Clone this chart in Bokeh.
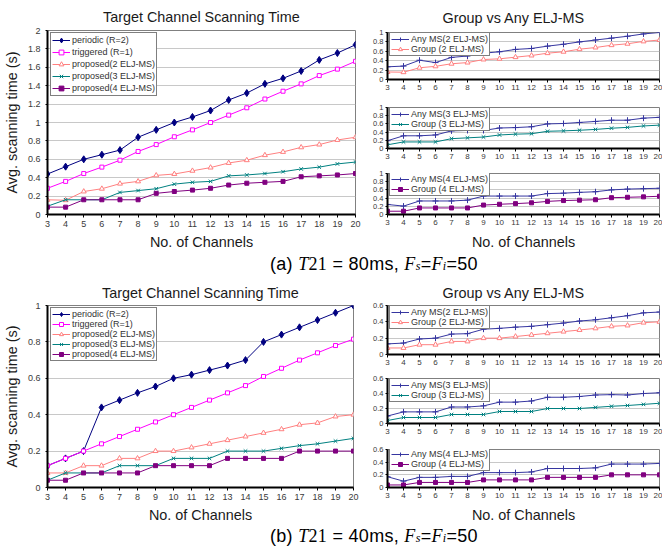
from bokeh.plotting import figure
from bokeh.layouts import row, column
from bokeh.models import FixedTicker, CustomJSTickFormatter, Legend, LegendItem, Div
from bokeh.embed import file_html
from bokeh.resources import INLINE

FONT = "Liberation Sans"

channels = list(range(3, 21))

# ---- (a) T21 = 80 ms ----
a_periodic = [0.44, 0.52, 0.60, 0.65, 0.70, 0.84, 0.92, 1.00, 1.06, 1.13, 1.245, 1.32, 1.42, 1.48, 1.56, 1.68, 1.755, 1.845]
a_triggered = [0.285, 0.36, 0.445, 0.515, 0.59, 0.685, 0.76, 0.845, 0.92, 1.00, 1.08, 1.16, 1.255, 1.34, 1.42, 1.51, 1.58, 1.665]
a_prop2 = [0.16, 0.155, 0.25, 0.28, 0.335, 0.36, 0.425, 0.44, 0.475, 0.51, 0.56, 0.59, 0.645, 0.68, 0.73, 0.76, 0.81, 0.84]
a_prop3 = [0.09, 0.16, 0.16, 0.16, 0.24, 0.26, 0.28, 0.33, 0.35, 0.36, 0.42, 0.43, 0.445, 0.465, 0.495, 0.515, 0.55, 0.57]
a_prop4 = [0.08, 0.08, 0.16, 0.16, 0.16, 0.16, 0.23, 0.25, 0.265, 0.285, 0.32, 0.34, 0.35, 0.36, 0.41, 0.42, 0.43, 0.445]
a_any2 = [0.27, 0.285, 0.41, 0.36, 0.47, 0.50, 0.56, 0.59, 0.64, 0.66, 0.71, 0.75, 0.80, 0.84, 0.88, 0.92, 0.97, 1.00]
a_any3 = [0.19, 0.31, 0.31, 0.33, 0.43, 0.44, 0.44, 0.50, 0.51, 0.53, 0.60, 0.61, 0.635, 0.66, 0.69, 0.69, 0.74, 0.76]
a_any4 = [0.245, 0.205, 0.33, 0.33, 0.33, 0.35, 0.45, 0.45, 0.45, 0.45, 0.51, 0.52, 0.54, 0.555, 0.60, 0.62, 0.63, 0.64]

# ---- (b) T21 = 40 ms ----
b_periodic = [0.12, 0.16, 0.20, 0.44, 0.48, 0.52, 0.555, 0.60, 0.62, 0.645, 0.67, 0.70, 0.80, 0.84, 0.88, 0.92, 0.96, 1.00]
b_triggered = [0.12, 0.16, 0.20, 0.24, 0.28, 0.32, 0.36, 0.40, 0.44, 0.48, 0.52, 0.56, 0.61, 0.655, 0.70, 0.74, 0.78, 0.815]
b_prop2 = [0.08, 0.08, 0.12, 0.12, 0.16, 0.16, 0.20, 0.20, 0.22, 0.24, 0.26, 0.28, 0.30, 0.32, 0.345, 0.355, 0.39, 0.40]
b_prop3 = [0.04, 0.08, 0.08, 0.08, 0.12, 0.12, 0.12, 0.16, 0.16, 0.16, 0.20, 0.20, 0.20, 0.215, 0.23, 0.24, 0.255, 0.27]
b_prop4 = [0.04, 0.04, 0.08, 0.08, 0.08, 0.08, 0.12, 0.12, 0.12, 0.12, 0.16, 0.16, 0.16, 0.16, 0.20, 0.20, 0.20, 0.20]
b_any2 = [0.13, 0.14, 0.19, 0.20, 0.25, 0.255, 0.31, 0.32, 0.335, 0.345, 0.365, 0.385, 0.41, 0.425, 0.45, 0.475, 0.51, 0.52]
b_any3 = [0.10, 0.155, 0.155, 0.155, 0.22, 0.22, 0.235, 0.285, 0.285, 0.30, 0.35, 0.35, 0.36, 0.38, 0.385, 0.38, 0.40, 0.41]
b_any4 = [0.17, 0.10, 0.16, 0.16, 0.175, 0.175, 0.235, 0.235, 0.235, 0.245, 0.30, 0.30, 0.30, 0.31, 0.37, 0.37, 0.37, 0.38]

yticks_2 = [0, 0.2, 0.4, 0.6, 0.8, 1.0, 1.2, 1.4, 1.6, 1.8, 2.0]
yticks_1 = [0, 0.2, 0.4, 0.6, 0.8, 1.0]
yticks_06 = [0, 0.2, 0.4, 0.6]

left_title = "Target Channel Scanning Time"
right_title = "Group vs Any ELJ-MS"
x_label = "No. of Channels"
y_label = "Avg. scanning time (s)"
left_names = ["periodic (R=2)", "triggered (R=1)", "proposed(2 ELJ-MS)",
              "proposed(3 ELJ-MS)", "proposed(4 ELJ-MS)"]

STY = {
    "periodic": dict(color="#000080", marker="diamond", size=7, fill="#000080"),
    "triggered": dict(color="#ff00ff", marker="square", size=4, fill="white"),
    "p2": dict(color="#ff8080", marker="triangle", size=5, fill="white"),
    "p3": dict(color="#008080", marker="x", size=5, fill="#008080"),
    "p4": dict(color="#800080", marker="square", size=4, fill="#800080"),
    "any": dict(color="#3636a0", marker="cross", size=6, fill="#3636a0"),
}


def style_axis(ax, label_size, tick_out, standoff, als):
    ax.axis_line_color = "black"
    ax.axis_line_width = 2
    ax.major_tick_line_color = "black"
    ax.major_tick_line_width = 1
    ax.major_tick_in = 0
    ax.major_tick_out = tick_out
    ax.minor_tick_line_color = None
    ax.major_label_text_font = FONT
    ax.major_label_text_font_size = label_size
    ax.major_label_text_color = "#3a3a3a"
    ax.major_label_standoff = standoff
    ax.axis_label_text_font = FONT
    ax.axis_label_text_font_size = "14.4px"
    ax.axis_label_text_font_style = "normal"
    ax.axis_label_text_color = "#1a1a1a"
    ax.axis_label_standoff = als


def make_fig(width, height, ymax, yticks, borders, small, xlabel=None, ylabel=None):
    l, r, t, b = borders
    p = figure(width=width, height=height, x_range=(3, 20), y_range=(0, ymax),
               output_backend="svg", toolbar_location=None,
               min_border_left=l, min_border_right=r, min_border_top=t, min_border_bottom=b)
    p.background_fill_color = "white"
    p.border_fill_color = "white"
    p.outline_line_color = "#808080"
    p.outline_line_width = 1
    xt = FixedTicker(ticks=channels)
    yt = FixedTicker(ticks=yticks)
    p.xaxis.ticker = xt
    p.yaxis.ticker = yt
    p.xgrid.visible = False
    p.ygrid.ticker = yt
    p.ygrid.grid_line_color = "#c8c8c8"
    p.yaxis.formatter = CustomJSTickFormatter(code="return String(Math.round(tick * 10) / 10);")
    if small:
        style_axis(p.xaxis[0], "8px", 3, 2, 6)
        style_axis(p.yaxis[0], "7.5px", 2, 2, 2)
    else:
        style_axis(p.xaxis[0], "9px", 3, 3, 4)
        style_axis(p.yaxis[0], "9px", 2, 5, 5)
    if xlabel:
        p.xaxis.axis_label = xlabel
    if ylabel:
        p.yaxis.axis_label = ylabel
    return p


def set_title(p, text, standoff, align="center", offset=0):
    p.title.text = text
    p.title.text_font = FONT
    p.title.text_font_size = "14.4px"
    p.title.text_font_style = "normal"
    p.title.text_color = "#1a1a1a"
    p.title.align = align
    p.title.offset = offset
    p.title.vertical_align = "bottom"
    p.title.standoff = standoff


def add_series(p, y, key):
    st = STY[key]
    r1 = p.line(channels, y, line_color=st["color"], line_width=1)
    r2 = p.scatter(channels, y, marker=st["marker"], size=st["size"],
                   line_color=st["color"], fill_color=st["fill"], line_width=1)
    return [r1, r2]


def add_legend(p, entries, frame_h, x_off, top_off, row_h, pad, fsize):
    items = [LegendItem(label=lab, renderers=rs) for lab, rs in entries]
    leg_h = len(items) * row_h + 2 * pad
    leg = Legend(items=items, location=(x_off, frame_h - top_off - leg_h),
                 label_text_font=FONT, label_text_font_size=fsize, label_text_color="#333333",
                 label_height=row_h, glyph_height=row_h, glyph_width=18, label_standoff=2,
                 spacing=0, padding=pad, margin=0,
                 border_line_color="black", border_line_width=1,
                 background_fill_color="white", background_fill_alpha=1)
    p.add_layout(leg)


def left_panel(height, borders, ymax, yticks, data, leg_top, leg_row, leg_pad, title_standoff):
    l, r, t, b = borders
    p = make_fig(362, height, ymax, yticks, borders, False, x_label, y_label)
    fh = height - t - b
    keys = ["periodic", "triggered", "p2", "p3", "p4"]
    rends = [add_series(p, y, k) for y, k in zip(data, keys)]
    add_legend(p, list(zip(left_names, rends)), fh, 3, leg_top, leg_row, leg_pad, "9px")
    set_title(p, left_title, title_standoff)
    return p


def right_panel(height, borders, ymax, yticks, any_y, grp_y, grp_key, n, xlabel=None, title_standoff=None):
    l, r, t, b = borders
    p = make_fig(300, height, ymax, yticks, borders, True, xlabel)
    fh = height - t - b
    ra = add_series(p, any_y, "any")
    rg = add_series(p, grp_y, grp_key)
    add_legend(p, [(f"Any MS({n} ELJ-MS)", ra), (f"Group ({n} ELJ-MS)", rg)],
               fh, 2, 2, 10, 1, "9px")
    if title_standoff is not None:
        set_title(p, right_title, title_standoff, align="left", offset=55)
    return p


# Row (a): height 252
left_a = left_panel(252, (47, 7, 30, 36), 2, yticks_2,
                    [a_periodic, a_triggered, a_prop2, a_prop3, a_prop4], 6, 12, 1, 12)
ra1 = right_panel(95, (25, 3, 32, 16), 1, yticks_1, a_any2, a_prop2, "p2", 2, title_standoff=14)
ra2 = right_panel(67, (25, 3, 12, 14), 1, yticks_1, a_any3, a_prop3, "p3", 3)
ra3 = right_panel(90, (25, 3, 11, 37), 1, yticks_1, a_any4, a_prop4, "p4", 4, xlabel=x_label)

# Row (b): height 247
left_b = left_panel(247, (47, 9, 27, 36), 1, yticks_1,
                    [b_periodic, b_triggered, b_prop2, b_prop3, b_prop4], 6, 10, 1, 9)
rb1 = right_panel(94, (25, 3, 27, 18), 0.6, yticks_06, b_any2, b_prop2, "p2", 2, title_standoff=9)
rb2 = right_panel(66, (25, 3, 6, 15), 0.6, yticks_06, b_any3, b_prop3, "p3", 3)
rb3 = right_panel(87, (25, 3, 11, 36), 0.6, yticks_06, b_any4, b_prop4, "p4", 4, xlabel=x_label)

SERIF = "font-family:'Liberation Serif','Times New Roman',serif;"


def caption(tag, t21, h, lh):
    html = (f"<div style=\"font-family:'Liberation Sans',Arial,sans-serif; font-size:18px; color:#000;"
            f" white-space:nowrap; padding-left:270px; letter-spacing:0.3px; line-height:{lh}px; height:{h}px;\">"
            f"({tag}) <span style=\"{SERIF}\"><i>T</i>21</span> = {t21}ms, "
            f"<span style=\"{SERIF}\"><i>F</i><i style='font-size:12px'>s</i></span>="
            f"<span style=\"{SERIF}\"><i>F</i><i style='font-size:12px'>i</i></span>=50</div>")
    return Div(text=html, width=662, height=h, margin=0)


cap_a = caption("a", 80, 26, 24)
cap_b = caption("b", 40, 28, 23)

layout = column(
    row(left_a, column(ra1, ra2, ra3)),
    cap_a,
    row(left_b, column(rb1, rb2, rb3)),
    cap_b,
)

open("out.html", "w").write(file_html(layout, INLINE))
